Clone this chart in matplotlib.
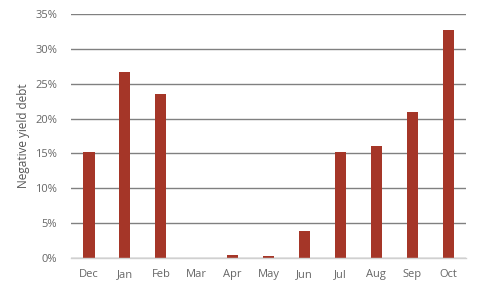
import matplotlib
matplotlib.use("Agg")
import matplotlib.pyplot as plt
from matplotlib.ticker import FuncFormatter

months = ["Dec", "Jan", "Feb", "Mar", "Apr", "May", "Jun", "Jul", "Aug", "Sep", "Oct"]
neg_yield_pct = [15.2, 26.7, 23.5, 0.0, 0.45, 0.3, 3.9, 15.2, 16.1, 20.9, 32.7]
yticks = [0, 5, 10, 15, 20, 25, 30, 35]

plt.rcParams['font.family'] = ['Open Sans', 'DejaVu Sans']

fig = plt.figure(figsize=(4.8, 3.08), dpi=100)
ax = fig.add_axes([0.148, 0.162, 0.823, 0.7925])

x = range(len(months))
ax.bar(x, neg_yield_pct, width=0.31, color="#a53628", zorder=3)

ax.set_xlim(-0.5, len(months) - 0.5)
ax.set_ylim(0, 35)
ax.set_yticks(yticks)
ax.yaxis.set_major_formatter(FuncFormatter(lambda v, p: f"{int(v)}%"))
ax.set_xticks(list(x))
ax.set_xticklabels(months)

ax.grid(axis="y", color="#808080", linewidth=1, zorder=0)
for s in ["top", "right", "left"]:
    ax.spines[s].set_visible(False)
ax.spines["bottom"].set_color("#d0d0d0")
ax.spines["bottom"].set_linewidth(1)
ax.spines["bottom"].set_zorder(4)

ax.tick_params(axis="both", length=0, labelsize=8, colors="#666666")
ax.tick_params(axis="y", pad=10)
ax.tick_params(axis="x", pad=8)

ax.set_ylabel("Negative yield debt", fontsize=8.5, color="#555555", labelpad=4)

fig.savefig("out.png", dpi=100)
